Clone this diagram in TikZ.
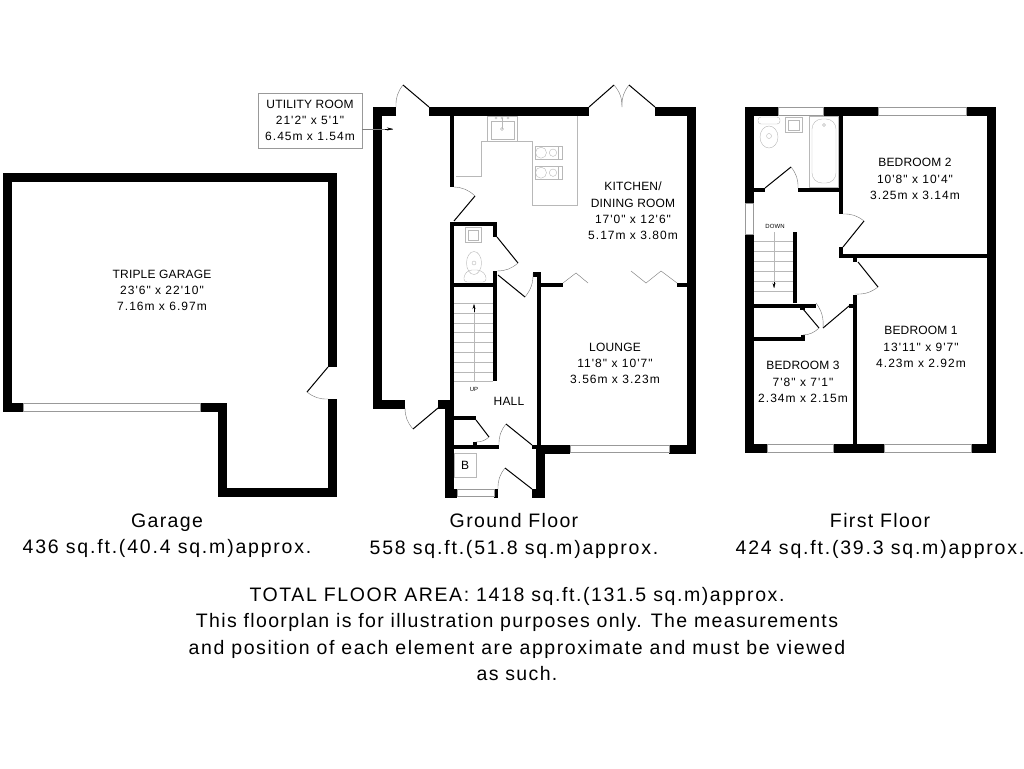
\documentclass[tikz,border=0pt]{standalone}
\usepackage{fontspec}
\newfontfamily\roomfont[LetterSpace=1.5]{Liberation Sans}
\newfontfamily\sizefont[LetterSpace=8.5]{Liberation Sans}
\newfontfamily\capfont[LetterSpace=7]{Liberation Sans}
\newfontfamily\notefont[LetterSpace=8.1]{Liberation Sans}
\newfontfamily\areafont[LetterSpace=9.2]{Liberation Sans}
\usetikzlibrary{arrows.meta}

\tikzset{
  wall/.style={line width=9pt, line join=miter},
  thinwall/.style={line width=4pt, line join=miter},
  leaf/.style={line width=1pt},
  swing/.style={line width=0.4pt, black!55},
  fitting/.style={line width=0.4pt, black!28},
  glazing/.style={draw=black!40, fill=white, line width=0.7pt},
  roomlabel/.style={align=center, font=\roomfont\fontsize{12}{16.3}\selectfont, inner sep=0pt},
  caption/.style={align=center, font=\capfont\fontsize{19.5}{26.4}\selectfont, inner sep=0pt},
  tiny/.style={font=\roomfont\fontsize{6}{7}\selectfont, inner sep=0pt}
}
\newcommand{\doorway}[4]{
  \draw[leaf] #1 -- #2;
  \draw[swing] #2 to[bend #4=20] #3;
}
\newcommand{\sz}{\sizefont}

\begin{document}
\begin{tikzpicture}[x=1pt, y=-1pt]
  \useasboundingbox (0,0) rectangle (1024,768);

  % garage
  \draw[wall] (23,407.5) -- (7.5,407.5) -- (7.5,177.5) -- (332.5,177.5) -- (332.5,367);
  \draw[wall] (332.5,399) -- (332.5,492.5) -- (222,492.5) -- (222,407.5) -- (200,407.5);
  \draw[glazing] (23,403.5) rectangle (200,411.5);
  \doorway{(328,367)}{(307,392)}{(328,399)}{right}

  % ground floor
  \draw[wall] (396,111.5) -- (377.5,111.5) -- (377.5,404) -- (405,404);
  \draw[wall] (438,404) -- (449.5,404) -- (449.5,497);
  \draw[wall] (429,111.5) -- (589,111.5);
  \draw[wall] (655,111.5) -- (691,111.5) -- (691,449) -- (669,449);
  \draw[wall] (570,449) -- (540.5,449) -- (540.5,497);
  \draw[wall] (445,493) -- (457,493);
  \draw[wall] (494,493) -- (498,493);
  \draw[wall] (532,493) -- (545,493);
  \draw[thinwall] (452,116) -- (452,187);
  \draw[thinwall] (452,222) -- (452,400);
  \draw[thinwall] (450,224) -- (495,224) -- (495,237);
  \draw[thinwall] (495,271) -- (495,381);
  \draw[thinwall] (450,285) -- (495,285);
  \draw[line width=5pt] (533,274.5) -- (541,274.5);
  \draw[thinwall] (539,272) -- (539,445);
  \draw[thinwall] (541,285) -- (563,285);
  \draw[thinwall] (677,285) -- (687,285);
  \draw[thinwall] (454,418) -- (476,418);
  \draw[thinwall] (454,447) -- (499,447);
  \draw[thinwall] (475,442) -- (475,446);
  \draw[thinwall] (534,445) -- (534,449);
  \draw[glazing] (570,445.5) rectangle (669,452.5);
  \draw[glazing] (457,489.5) rectangle (494,496.5);
  \doorway{(429,107)}{(403,85)}{(396,107)}{right}
  \doorway{(589,107)}{(614,85)}{(622,107)}{left}
  \doorway{(655,107)}{(629,85)}{(622,107)}{right}
  \doorway{(454,221)}{(475,196)}{(454,187)}{right}
  \doorway{(497,237)}{(518,263)}{(497,271)}{left}
  \doorway{(498,275)}{(525,297)}{(533,273)}{right}
  \doorway{(438,408)}{(413,429)}{(405,408)}{left}
  \doorway{(476,420)}{(489,437)}{(476,442)}{left}
  \doorway{(532,445)}{(506,424)}{(499,445)}{right}
  \doorway{(532,489)}{(505,468)}{(498,489)}{right}
  \draw[swing] (563,283) -- (576,273) -- (588,283);
  \draw[swing] (631,271) -- (646,283) -- (661,271) -- (677,283);

  % kitchen and cloakroom fittings
  \draw[fitting] (456,176) -- (481,176) -- (481,141) -- (532,141) -- (532,205) -- (577,205) -- (577,116);
  \draw[fitting] (487,116) rectangle (517,141);
  \draw[fitting] (491,121) rectangle (514,139);
  \foreach \tapx in {496,502,508}
    \draw[fitting] (\tapx,118) circle (1.2);
  \draw[fitting] (502,118) -- (502,129);
  \draw[fitting] (502,129) circle (1.5);
  \foreach \hoby in {146,166} {
    \draw[fitting] (535,\hoby) rectangle (562,\hoby+13.5);
    \draw[fitting] (558,\hoby) -- (558,\hoby+13.5);
    \draw[fitting] (541,\hoby+6.7) circle (5.5);
    \draw[fitting] (553,\hoby+6.7) circle (3.7);
  }
  \draw[fitting] (465,227) rectangle (481,242);
  \draw[fitting] (468,230) rectangle (478,240);
  \draw[fitting] (474,263) ellipse (7.5 and 11.5);
  \draw[fitting] (474,263) circle (2);
  \draw[fitting, rounded corners=3pt] (464,275) -- (469,270) -- (480,270) -- (486,275) -- (486,282) -- (464,282) -- cycle;

  % stairs up
  \foreach \tready in {303,313,323,332,342,352,362,372,381}
    \draw[fitting] (454,\tready) -- (493,\tready);
  \draw[fitting] (474,381) -- (474,305);
  \draw[-{Stealth[length=5pt,width=3pt]}, line width=0.4pt] (474,312) -- (474,304);
  \node[tiny] (uplabel) at (474,389) {UP};

  \draw[fitting] (454,453) rectangle (476,477);
  \node[font=\roomfont\fontsize{12}{14}\selectfont, inner sep=0pt] (boiler) at (465,465) {B};

  \node[draw=black!40, line width=0.5pt, minimum width=104pt, minimum height=55pt, inner sep=0pt,
        align=center, font=\roomfont\fontsize{12}{16.3}\selectfont] (utility) at (310,120.5)
       {UTILITY ROOM\\\sz 21'2" x 5'1"\\\sz 6.45m x 1.54m};
  \coordinate (utilitytip) at (393,129);
  \draw[black!50, line width=0.4pt] (utility.east |- utilitytip) -- (utilitytip);
  \draw[-{Stealth[length=6pt,width=3pt]}, line width=0.4pt] (385,129) -- (utilitytip);

  \node[roomlabel] (garage) at (162,290.5) {TRIPLE GARAGE\\\sz 23'6" x 22'10"\\\sz 7.16m x 6.97m};
  \node[roomlabel] (kitchen) at (633,211) {KITCHEN/\\DINING ROOM\\\sz 17'0" x 12'6"\\\sz 5.17m x 3.80m};
  \node[roomlabel] (lounge) at (615,363.5) {LOUNGE\\\sz 11'8" x 10'7"\\\sz 3.56m x 3.23m};
  \node[roomlabel] (hall) at (509,401) {HALL};

  % first floor
  \draw[wall] (778,111.5) -- (749.5,111.5) -- (749.5,203);
  \draw[wall] (749.5,234) -- (749.5,448.5) -- (767,448.5);
  \draw[wall] (823,111.5) -- (878,111.5);
  \draw[wall] (966,111.5) -- (991.5,111.5) -- (991.5,448.5) -- (971,448.5);
  \draw[wall] (833,448.5) -- (884,448.5);
  \draw[thinwall] (841,116) -- (841,214);
  \draw[thinwall] (754,190) -- (765,190);
  \draw[thinwall] (798,190) -- (839,190);
  \draw[thinwall] (841,247) -- (841,258);
  \draw[thinwall] (839,256) -- (987,256);
  \draw[thinwall] (855,258) -- (855,262);
  \draw[thinwall] (855,295) -- (855,444);
  \draw[thinwall] (849,305.5) -- (853,305.5);
  \draw[thinwall] (754,305.5) -- (816,305.5);
  \draw[thinwall] (795,232) -- (795,303);
  \draw[line width=2.5pt] (800,309) -- (805,309);
  \draw[thinwall] (754,339) -- (805,339);
  \draw[thinwall] (802.5,335) -- (802.5,337);
  \draw[glazing] (778,107.5) rectangle (823,115.5);
  \draw[glazing] (878,107.5) rectangle (966,115.5);
  \draw[glazing] (745.5,203) rectangle (753.5,234);
  \draw[glazing] (767,444.5) rectangle (833,452.5);
  \draw[glazing] (884,444.5) rectangle (971,452.5);
  \doorway{(765,188)}{(791,167)}{(798,188)}{left}
  \doorway{(843,247)}{(864,221)}{(843,214)}{right}
  \doorway{(858,262)}{(878,287)}{(855,294)}{left}
  \doorway{(849,306)}{(823,328)}{(816,303)}{right}
  \doorway{(803,309)}{(819,328)}{(803,335)}{left}

  % bathroom fittings
  \draw[fitting] (769,137) ellipse (9 and 11);
  \draw[fitting] (769,136) circle (2.5);
  \draw[fitting, rounded corners=3pt] (758,117) rectangle (780,124);
  \draw[fitting] (785,117) rectangle (802,132);
  \draw[fitting] (788,120) rectangle (799,130);
  \draw[fitting] (809,116) rectangle (838,187);
  \draw[fitting, rounded corners=10pt] (812,119) rectangle (836,183);
  \draw[fitting] (824,125) circle (1.5);

  % stairs down
  \foreach \tready in {241,251,261,271,281,291}
    \draw[fitting] (754,\tready) -- (793,\tready);
  \draw[fitting] (774,232) -- (774,288);
  \draw[-{Stealth[length=5pt,width=3pt]}, line width=0.4pt] (774,282) -- (774,288);
  \node[tiny] (downlabel) at (775,226) {DOWN};

  \node[roomlabel] (bedtwo) at (915,179) {BEDROOM 2\\\sz 10'8" x 10'4"\\\sz 3.25m x 3.14m};
  \node[roomlabel] (bedone) at (921,347) {BEDROOM 1\\\sz 13'11" x 9'7"\\\sz 4.23m x 2.92m};
  \node[roomlabel] (bedthree) at (803,382) {BEDROOM 3\\\sz 7'8" x 7'1"\\\sz 2.34m x 2.15m};

  % captions
  \node[caption] (capgarage) at (167,536) {Garage\\\areafont 436 sq.ft.(40.4 sq.m)approx.};
  \node[caption] (capground) at (514,536) {Ground Floor\\\areafont 558 sq.ft.(51.8 sq.m)approx.};
  \node[caption] (capfirst) at (880,536) {First Floor\\\areafont 424 sq.ft.(39.3 sq.m)approx.};
  \node[caption] (capnote) at (517,634) {\notefont TOTAL FLOOR AREA: 1418 sq.ft.(131.5 sq.m)approx.\\This floorplan is for illustration purposes only. The measurements\\\notefont and position of each element are approximate and must be viewed\\as such.};
\end{tikzpicture}
\end{document}
